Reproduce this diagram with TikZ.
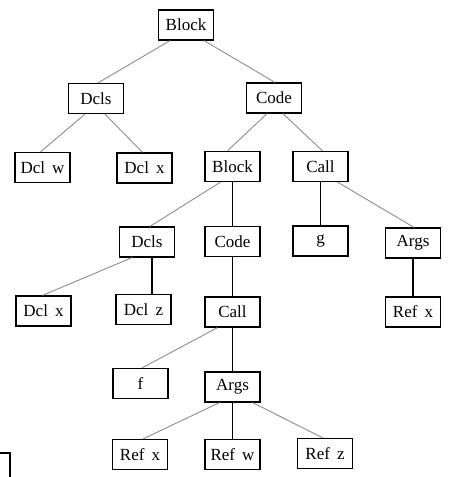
\documentclass[tikz,border=0pt]{standalone}
\usepackage{fontspec}
\setmainfont{Liberation Serif}
\usetikzlibrary{calc}
\begin{document}
\begin{tikzpicture}[x=1pt,y=-1pt,
  tnode/.style={draw=black,line width=1.2pt,minimum width=55pt,minimum height=30pt,inner sep=0pt,font=\fontsize{17}{19}\selectfont},
  diag/.style={draw=black!45,line width=0.9pt},
  vert/.style={draw=black,line width=1.2pt}]
\useasboundingbox (0,0) rectangle (451,477);
\node[tnode] (b1) at (186,25) {Block};
\node[tnode] (dcls1) at (96,98.5) {Dcls};
\node[tnode] (code1) at (274,98) {Code};
\node[tnode] (dclw) at (42.5,167.5) {Dcl\, w};
\node[tnode] (dclx1) at (144.5,168) {Dcl\, x};
\node[tnode] (b2) at (232.5,166.5) {Block};
\node[tnode] (call1) at (320.5,166.5) {Call};
\node[tnode] (dcls2) at (147,242) {Dcls};
\node[tnode] (code2) at (232.5,241.5) {Code};
\node[tnode] (g) at (320.5,241) {g};
\node[tnode] (args1) at (413,243) {Args};
\node[tnode] (dclx2) at (43.5,311) {Dcl\, x};
\node[tnode] (dclz) at (143.5,309.5) {Dcl\, z};
\node[tnode] (call2) at (232.5,312) {Call};
\node[tnode] (refx1) at (413,312) {Ref\, x};
\node[tnode] (f) at (140.5,383.5) {f};
\node[tnode] (args2) at (232.5,387) {Args};
\node[tnode] (refx2) at (140,454.5) {Ref\, x};
\node[tnode] (refw) at (232.5,454.5) {Ref\, w};
\node[tnode] (refz) at (325,453.5) {Ref\, z};

\draw[diag] ([xshift=-16pt]b1.south) -- ([xshift=2pt]dcls1.north);
\draw[diag] ([xshift=18pt]b1.south) -- ([xshift=1pt]code1.north);
\draw[diag] ([xshift=-11pt]dcls1.south) -- ([xshift=-2pt]dclw.north);
\draw[diag] ([xshift=9pt]dcls1.south) -- ([xshift=-2pt]dclx1.north);
\draw[diag] ([xshift=-7pt]code1.south) -- ([xshift=-5pt]b2.north);
\draw[diag] ([xshift=9pt]code1.south) -- ([xshift=2pt]call1.north);
\draw[diag] ([xshift=-12pt]b2.south) -- ([xshift=3pt]dcls2.north);
\draw[vert] (b2.south) -- (code2.north);
\draw[vert] (call1.south) -- (g.north);
\draw[diag] ([xshift=17pt]call1.south) -- ([xshift=1pt]args1.north);
\draw[diag] ([xshift=-15pt]dcls2.south) -- ([xshift=-1pt]dclx2.north);
\draw[vert] ([xshift=5pt]dcls2.south) -- ([xshift=5pt]dcls2.south |- dclz.north);
\draw[vert] (code2.south) -- (call2.north);
\draw[vert] (args1.south) -- (refx1.north);
\draw[diag] ([xshift=-15pt]call2.south) -- ([xshift=1.5pt]f.north);
\draw[vert] (call2.south) -- (args2.north);
\draw[diag] ([xshift=-13pt]args2.south) -- ([xshift=3pt]refx2.north);
\draw[vert] (args2.south) -- (refw.north);
\draw[diag] ([xshift=20pt]args2.south) -- ([xshift=-2pt]refz.north);
\draw[line width=1.2pt] (0,453) -- (10,453) -- (10,477);
\end{tikzpicture}
\end{document}
